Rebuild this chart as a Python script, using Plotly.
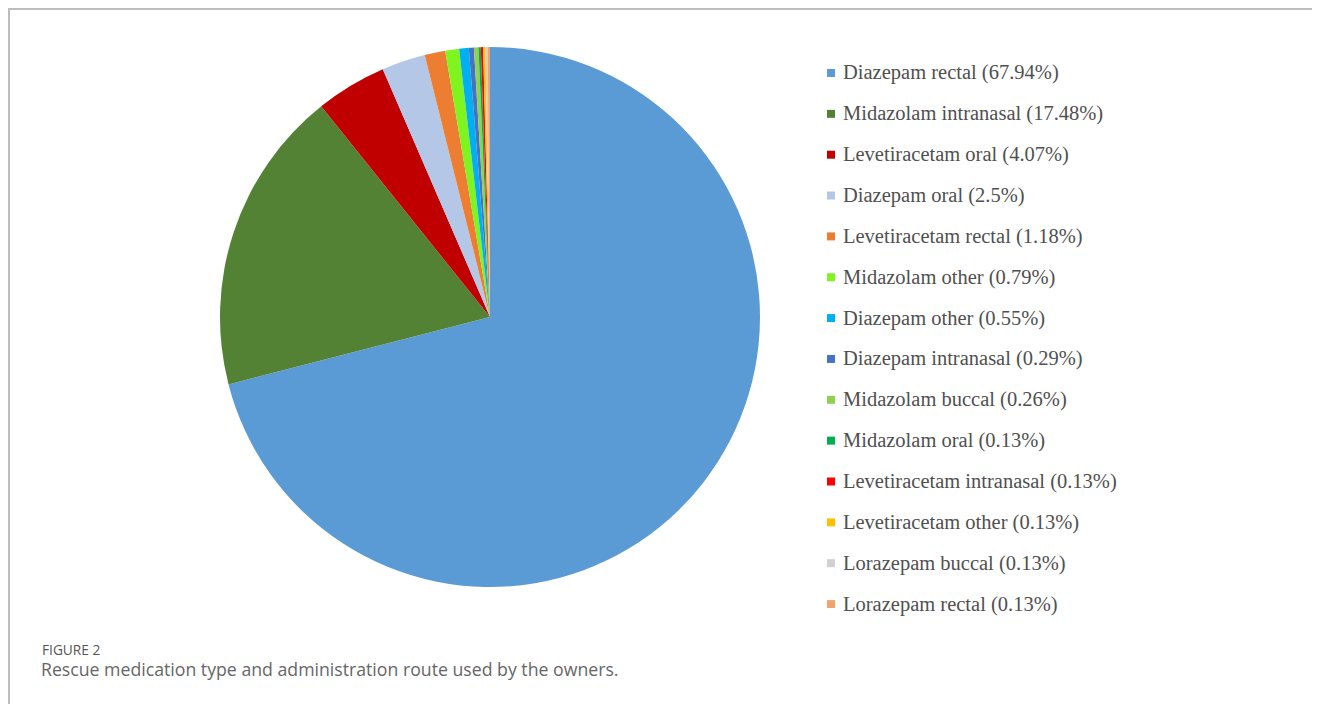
import plotly.graph_objects as go

# ---- data ----
labels = [
    "Diazepam rectal", "Midazolam intranasal", "Levetiracetam oral", "Diazepam oral",
    "Levetiracetam rectal", "Midazolam other", "Diazepam other", "Diazepam intranasal",
    "Midazolam buccal", "Midazolam oral", "Levetiracetam intranasal", "Levetiracetam other",
    "Lorazepam buccal", "Lorazepam rectal",
]
percents = [67.94, 17.48, 4.07, 2.5, 1.18, 0.79, 0.55, 0.29, 0.26, 0.13, 0.13, 0.13, 0.13, 0.13]
colors = [
    "#5B9BD5", "#548235", "#C00000", "#B4C7E7", "#ED7D31", "#7FF41F", "#00B0F0",
    "#4472C4", "#92D050", "#00B050", "#FF0000", "#FFC000", "#D0D0D0", "#F4A26C",
]
caption_label = "FIGURE 2"
caption_text = "Rescue medication type and administration route used by the owners."

# page is offset by the default 8px body margin
OFF = 8
W, H = 1320 - OFF, 704 - OFF

def px(x):
    return (x - OFF) / W

def py(y):
    return 1 - (y - OFF) / H

fig = go.Figure()
fig.add_trace(go.Pie(
    labels=labels,
    values=percents,
    sort=False,
    direction="clockwise",
    rotation=0,
    textinfo="none",
    hoverinfo="label+value",
    marker=dict(colors=colors, line=dict(width=0)),
    showlegend=False,
    domain=dict(x=[px(220), px(760)], y=[py(587), py(47)]),
))

annotations = []
shapes = []
legend_top, legend_step = 73, 40.85
for i, (lab, v, c) in enumerate(zip(labels, percents, colors)):
    yc = legend_top + i * legend_step
    shapes.append(dict(type="rect", xref="paper", yref="paper",
                       x0=px(827), x1=px(835), y0=py(yc + 4), y1=py(yc - 4),
                       fillcolor=c, line=dict(width=0)))
    annotations.append(dict(xref="paper", yref="paper", x=px(841), y=py(yc),
                            xanchor="left", yanchor="middle", showarrow=False,
                            text=f"{lab} ({v:g}%)",
                            font=dict(family="Liberation Serif", size=20.5, color="#505050")))

annotations.append(dict(xref="paper", yref="paper", x=px(40), y=py(649),
                        xanchor="left", yanchor="middle", showarrow=False,
                        text=caption_label,
                        font=dict(family="Open Sans", size=13.7, color="#555555")))
annotations.append(dict(xref="paper", yref="paper", x=px(39), y=py(669),
                        xanchor="left", yanchor="middle", showarrow=False,
                        text=caption_text,
                        font=dict(family="Open Sans", size=17.7, color="#666666")))

# frame
shapes.append(dict(type="line", xref="paper", yref="paper", x0=0.0, x1=1.0,
                   y0=py(9), y1=py(9), line=dict(color="#BDBDBD", width=2)))
shapes.append(dict(type="line", xref="paper", yref="paper", x0=1 / W, x1=1 / W,
                   y0=py(9), y1=0.0, line=dict(color="#BDBDBD", width=2)))

fig.update_layout(
    width=W, height=H,
    margin=dict(l=0, r=0, t=0, b=0),
    paper_bgcolor="white", plot_bgcolor="white",
    annotations=annotations, shapes=shapes,
)

fig.write_html("out.html")
